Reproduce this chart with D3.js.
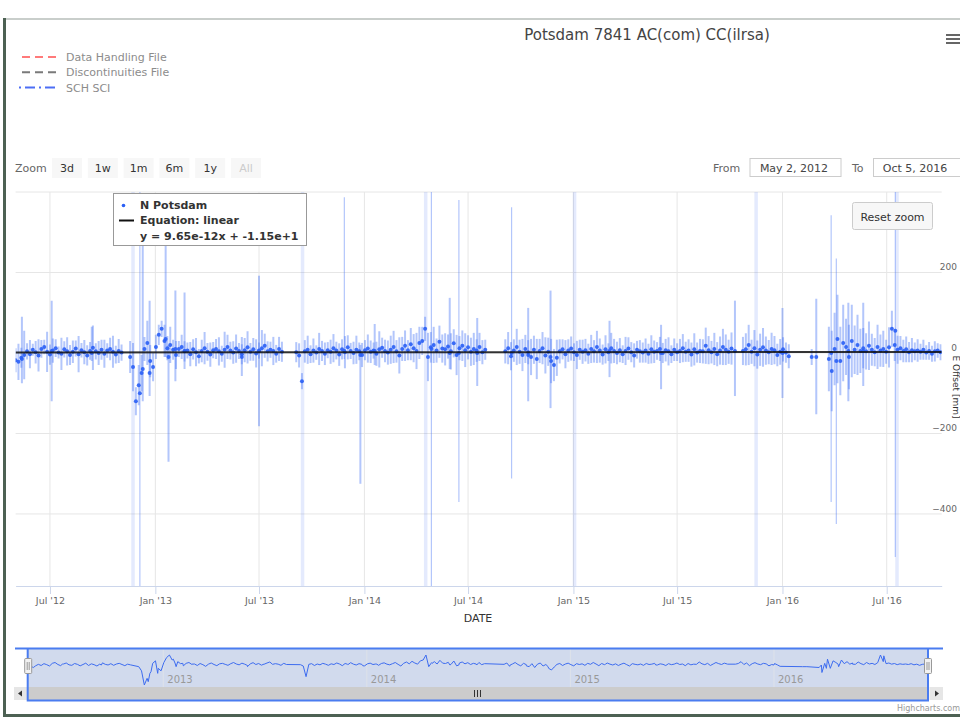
<!DOCTYPE html>
<html>
<head>
<meta charset="utf-8">
<script src="https://cdn.jsdelivr.net/npm/d3@7"></script>
<style>
  body { margin: 0; background: #fff; }
  svg { display: block; font-family: "DejaVu Sans", sans-serif; }
</style>
</head>
<body>
<div id="plot"></div>
<script>
// values

  const chartTitle = "Potsdam 7841 AC(com) CC(ilrsa)";
  const legendNames = ["Data Handling File", "Discontinuities File", "SCH SCI"];
  const zoomButtons = ["3d", "1w", "1m", "6m", "1y", "All"];
  const rangeFrom = "2012-05-02";
  const rangeTo = "2016-10-05";
  const fromLabel = "May 2, 2012";
  const toLabel = "Oct 5, 2016";
  const yTicks = [-400, -200, 0, 200, 400];
  const yMin = -579;
  const yMax = 400;

// N offsets [mm], one every 5 days from rangeFrom (null = no data)
  const obsStepDays = 5;
  const offsets = [
    -18, -22, -12, -5, 4, -3, 8, 2, -6, 10,
    15, 3, -4, 6, 12, 1, -2, 9, 4, -5,
    3, 11, -3, 7, 2, -6, 5, 13, 4, 0,
    8, -2, 6, 10, 3, -4, 5, 1,
    null, null,
    -10, -35, -120, -80, -50, 10, 25, -20, -35, 15,
    45, 60, 30, 12, 20, 8, -5, 10, 15, 4,
    6, -3, 9, 2, -8, 5, 12, 3, -4, 7,
    10, 4, -2, 8, 15, 6, 1, 11, 5, -3,
    7, 14, 3, 9, -1, 6, 12, 18, 4, 8,
    5, -2, 10, 3,
    null, null, null, null,
    2, -6, -70, 4, 8, -3, 6, 1, 10, 5, -2, 7,
    3, 12, 6, -4, 9, 2, 14, 5, 0, 8,
    4, -5, 7, 11, 3, 6, -2, 9, 13, 5,
    1, 8, 15, 4, -6, 10, 18, 7, 22, 12,
    5, 25, 30, 60, -10, 14, 20, 6, 28, 11,
    9, 16, 4, 24, -5, 12, 18, 7, 14, 3,
    10, 6, 15, 2, 8,
    null, null, null, null, null, null,
    4, 12, -8, 6, 15, 3, -5, 10, 2,
    -10, 8, -15, 5, 12, -6, 3, -20, -30, -12,
    4, 9, -3, 6, 11, 2, -5, 8, 3, 7,
    -2, 10, 4, 15, 6, -4, 9, 2, 12, 5,
    0, 7, -3, 5, 11, 2, -6, 8, 4, 1,
    6, -2, 9, 3, 5, 10, 0, 7, 4, -3,
    8, 2, 5, 12, 3, 6, -4, 9, 1, 5,
    4, 18, 7, 2, 10, -3, 6, 15, 8, 3, 11,
    null, null, null,
    5, 9, 20, 3, 12, -4, 8, 14, 6, 2, 10, 7, -5, 3, 9, 1, -8,
    null, null, null, null, null, null, null, -10, null, null, null, null, null,
    -15, -45, 10, 35, -20, 25, 15, -10, 30, 8, 20, 5,
    12, 4, 18, 8, 2, 15, 6, 10, 3, 14,
    60, 20, 8, 12, 5, 9, 2, 7, 4, 6,
    3, 8, 1, 5, -2, 4, 6, 2
  ];

// error bar half widths [mm] for the offsets above
  const sigmas = [
    30, 45, 25, 60, 20, 35, 15, 28, 40, 22,
    18, 50, 25, 30, 22, 15, 40, 20, 35, 25,
    28, 20, 45, 18, 30, 25, 22, 55, 20, 30,
    25, 35, 18, 28, 40, 22, 30, 20,
    null, null,
    40, 60, 35, 50, 45, 30, 55, 40, 35, 30,
    25, 20, 40, 30, 45, 25, 35, 20, 30, 25,
    20, 30, 25, 35, 18, 28, 40, 22, 30, 20,
    25, 35, 20, 45, 30, 22, 28, 35, 20, 25,
    30, 40, 22, 28, 35, 20, 45, 30, 25, 20,
    35, 22, 30, 25,
    null, null, null, null,
    25, 30, 20, 28, 35, 22, 30, 18, 40, 25, 28, 20,
    30, 35, 22, 28, 25, 40, 30, 20, 28, 35,
    22, 30, 25, 35, 28, 20, 30, 45, 25, 28,
    30, 35, 40, 28, 45, 30, 38, 25, 40, 35,
    45, 40, 35, 30, 60, 38, 45, 30, 40, 35,
    40, 30, 45, 35, 50, 30, 38, 42, 30, 35,
    40, 28, 35, 30, 25,
    null, null, null, null, null, null,
    30, 40, 35, 28, 45, 30, 40, 35, 30,
    45, 35, 50, 30, 40, 45, 35, 55, 40, 45,
    30, 25, 35, 28, 30, 22, 35, 25, 30, 28,
    25, 35, 28, 40, 30, 25, 35, 22, 38, 30,
    28, 30, 22, 35, 28, 25, 30, 22, 28, 25,
    30, 25, 35, 28, 22, 30, 25, 28, 35, 22,
    28, 22, 30, 35, 25, 28, 30, 40, 25, 30,
    30, 45, 35, 28, 40, 30, 35, 45, 38, 30, 40,
    null, null, null,
    35, 40, 50, 30, 45, 35, 40, 48, 35, 30, 40, 35, 28, 32, 30, 25, 30,
    null, null, null, null, null, null, null, 20, null, null, null, null, null,
    80, 100, 90, 110, 85, 95, 70, 80, 90, 60, 75, 55,
    50, 45, 60, 40, 35, 55, 40, 45, 30, 50,
    45, 40, 35, 30, 28, 32, 25, 30, 22, 28,
    20, 25, 18, 22, 20, 25, 18, 20
  ];

// single observations with very large error bars
  const spikeDates = ["2012-05-13", "2012-07-04", "2012-09-12", "2012-12-05", "2012-12-10",
    "2012-12-22", "2013-01-19", "2013-01-24", "2013-02-05", "2013-02-21", "2013-06-01",
    "2013-07-01", "2013-11-27", "2013-12-25", "2014-01-19", "2014-04-28", "2014-05-30",
    "2014-06-15", "2014-07-17", "2014-09-15", "2014-10-14", "2014-11-22", "2015-03-05",
    "2015-06-03", "2015-10-10", "2016-01-01", "2016-02-29", "2016-03-26", "2016-04-04",
    "2016-04-25", "2016-05-21", "2016-07-16"];
  const spikeValues = [-15, 5, 0, -100, -40, -50, 35, -10, 10, 5, -10, 5, 5, -5, 5, 10,
    0, 0, 0, 0, -5, -10, 5, 0, 5, 0, -10, 0, -20, 5, 5, 55];
  const spikeLow = [-75, -120, -20, -900, -120, -107, -10, -270, -70, -40, -57, -182, -15,
    -325, -30, -900, -40, -370, -82, -312, -120, -137, -60, -90, -107, -112, -152, -370,
    -425, -120, -82, -507];
  const spikeHigh = [90, 130, 65, 900, 280, 130, 272, 20, 155, 150, 40, 192, 387, 20, 72,
    900, 137, 380, 87, 362, 112, 155, 80, 70, 130, 112, 135, 342, 235, 125, 125, 900];

// SCH SCI plot lines
  const sciDates = ["2012-11-23", "2013-09-15", "2014-04-18", "2015-01-03", "2015-11-16", "2016-07-19"];

// linear fit from the box
  const fitSlope = 9.65e-12;
  const fitIntercept = -1.15e+1;

  const w = 960;
  const h = 721;
  const plot = {left: 15.6, right: 941.7, top: 192, bottom: 586};
  const nav = {left: 27.2, right: 929, top: 649, bottom: 687};

  const parse = d3.utcParse("%Y-%m-%d");
  const start = parse(rangeFrom);
  const end = parse(rangeTo);

  const obs = offsets.map((v, i) => ({
      date: d3.utcDay.offset(start, i * obsStepDays),
      value: v, lo: v - sigmas[i], hi: v + sigmas[i]}))
    .filter(d => d.value !== null);

  const spikes = spikeDates.map((s, i) => ({
      date: parse(s), value: spikeValues[i], lo: spikeLow[i], hi: spikeHigh[i]}));

  const points = obs.concat(spikes).sort((a, b) => a.date - b.date);

  const xScale = d3.scaleUtc()
      .domain([start, end])
      .range([plot.left, plot.right]);

  const yScale = d3.scaleLinear()
      .domain([yMin, yMax])
      .range([plot.bottom, plot.top]);

  const svg = d3.select("#plot")
    .append("svg")
      .attr("width", w)
      .attr("height", h);

  svg.append("rect")
      .attr("width", w)
      .attr("height", h)
      .attr("fill", "#fff");

// window frame

  svg.append("rect").attr("x", 3).attr("y", 18).attr("width", w - 3).attr("height", 2).attr("fill", "#c9cecb");
  svg.append("rect").attr("x", 3).attr("y", 18).attr("width", 3).attr("height", 699).attr("fill", "#4d6153");
  svg.append("rect").attr("x", 3).attr("y", 714).attr("width", w - 3).attr("height", 3).attr("fill", "#4d6153");

// title and menu

  svg.append("text")
      .attr("x", 647)
      .attr("y", 40)
      .attr("text-anchor", "middle")
      .attr("font-size", 15)
      .attr("fill", "#444")
      .text(chartTitle);

  [35, 39, 43].forEach(yy => {
    svg.append("line").attr("x1", 946).attr("x2", 960).attr("y1", yy).attr("y2", yy)
        .attr("stroke", "#666").attr("stroke-width", 2);
  });

// legend

  const legendStyles = [
    {color: "#ff7a7a", dash: "8,5", x1: 22},
    {color: "#7a7a7a", dash: "8,5", x1: 22},
    {color: "#4d6ef5", dash: "2,4,10,4", x1: 19}
  ];

  const legend = svg.append("g").attr("class", "legend");
  legendNames.forEach((name, i) => {
    const yy = 57 + i * 15.3;
    legend.append("line")
        .attr("x1", legendStyles[i].x1).attr("x2", 56)
        .attr("y1", yy).attr("y2", yy)
        .attr("stroke", legendStyles[i].color)
        .attr("stroke-width", 2)
        .attr("stroke-dasharray", legendStyles[i].dash);
    legend.append("text")
        .attr("x", 66).attr("y", yy + 4)
        .attr("font-size", 11)
        .attr("fill", "#8c8c8c")
        .text(name);
  });

// range selector

  svg.append("text")
      .attr("x", 15).attr("y", 172)
      .attr("font-size", 11).attr("fill", "#666")
      .text("Zoom");

  const buttons = svg.append("g").attr("class", "buttons")
    .selectAll("g")
      .data(zoomButtons)
    .enter().append("g")
      .attr("transform", (d, i) => `translate (${52 + i * 35.8}, 158)`);

  buttons.append("rect")
      .attr("width", 30).attr("height", 20)
      .attr("fill", "#f7f7f7");

  buttons.append("text")
      .attr("x", 15).attr("y", 14)
      .attr("text-anchor", "middle")
      .attr("font-size", 11)
      .attr("fill", d => d === "All" ? "#cccccc" : "#333")
      .text(d => d);

  svg.append("text").attr("x", 713).attr("y", 172).attr("font-size", 11).attr("fill", "#666").text("From");
  svg.append("rect").attr("x", 750).attr("y", 158.5).attr("width", 91).attr("height", 18)
      .attr("fill", "#fff").attr("stroke", "#cccccc");
  svg.append("text").attr("x", 794).attr("y", 172).attr("text-anchor", "middle")
      .attr("font-size", 11).attr("fill", "#444").text(fromLabel);
  svg.append("text").attr("x", 852).attr("y", 172).attr("font-size", 11).attr("fill", "#666").text("To");
  svg.append("rect").attr("x", 873.5).attr("y", 158.5).attr("width", 91).attr("height", 18)
      .attr("fill", "#fff").attr("stroke", "#cccccc");
  svg.append("text").attr("x", 915).attr("y", 172).attr("text-anchor", "middle")
      .attr("font-size", 11).attr("fill", "#444").text(toLabel);

// grid

  const xTicks = xScale.ticks(d3.utcMonth.every(6));

  svg.append("g")
      .attr("class", "ygrid")
    .selectAll("line")
      .data(yTicks)
    .enter().append("line")
      .attr("x1", plot.left).attr("x2", plot.right)
      .attr("y1", d => yScale(d)).attr("y2", d => yScale(d))
      .attr("stroke", "#e6e6e6");

  svg.append("g")
      .attr("class", "xgrid")
    .selectAll("line")
      .data(xTicks)
    .enter().append("line")
      .attr("x1", d => xScale(d)).attr("x2", d => xScale(d))
      .attr("y1", plot.top).attr("y2", plot.bottom)
      .attr("stroke", "#e6e6e6");

// marks, clipped to the plot area

  svg.append("clipPath")
      .attr("id", "clip")
    .append("rect")
      .attr("x", plot.left).attr("y", plot.top)
      .attr("width", plot.right - plot.left)
      .attr("height", plot.bottom - plot.top);

  const marks = svg.append("g").attr("clip-path", "url(#clip)");

  marks.append("g")
      .attr("class", "sci")
    .selectAll("line")
      .data(sciDates.map(parse))
    .enter().append("line")
      .attr("x1", d => xScale(d)).attr("x2", d => xScale(d))
      .attr("y1", plot.top).attr("y2", plot.bottom)
      .attr("stroke", "#3f6df2")
      .attr("stroke-opacity", 0.14)
      .attr("stroke-width", 3.5);

  marks.append("g")
      .attr("class", "errorbars")
    .selectAll("line")
      .data(points)
    .enter().append("line")
      .attr("x1", d => xScale(d.date)).attr("x2", d => xScale(d.date))
      .attr("y1", d => yScale(d.hi)).attr("y2", d => yScale(d.lo))
      .attr("stroke", "#4a78f5")
      .attr("stroke-opacity", 0.42)
      .attr("stroke-width", d => d.hi - d.lo > 400 ? 1.2 : 2);

  marks.append("g")
      .attr("class", "dots")
    .selectAll("circle")
      .data(points)
    .enter().append("circle")
      .attr("cx", d => xScale(d.date))
      .attr("cy", d => yScale(d.value))
      .attr("r", 2)
      .attr("fill", "#2a5ff5")
      .attr("fill-opacity", 0.9);

  const fit = d => fitSlope * d.getTime() + fitIntercept;

  marks.append("line")
      .attr("x1", xScale(start)).attr("x2", xScale(end))
      .attr("y1", yScale(fit(start))).attr("y2", yScale(fit(end)))
      .attr("stroke", "#111")
      .attr("stroke-opacity", 0.85)
      .attr("stroke-width", 2);

// axes

  const xAxis = d3.axisBottom(xScale)
      .tickValues(xTicks)
      .tickFormat(d3.utcFormat("%b '%y"))
      .tickSize(8)
      .tickSizeOuter(0)
      .tickPadding(3);

  const gx = svg.append("g")
      .attr("class", "xAxis")
      .attr("transform", `translate (0, ${plot.bottom})`)
      .call(xAxis);
  gx.select(".domain").attr("stroke", "#ccd6eb");
  gx.selectAll(".tick line").attr("stroke", "#ccd6eb");
  gx.selectAll("text").attr("font-size", 9.5).attr("fill", "#666").attr("font-family", "DejaVu Sans");

  svg.append("text")
      .attr("x", 478).attr("y", 622)
      .attr("text-anchor", "middle")
      .attr("font-size", 11).attr("fill", "#333")
      .text("DATE");

  const yAxis = d3.axisLeft(yScale)
      .tickValues(yTicks.filter(d => d < yMax))
      .tickSize(0)
      .tickPadding(0);

  const gy = svg.append("g")
      .attr("class", "yAxis")
      .attr("transform", `translate (957, 0)`)
      .call(yAxis);
  gy.select(".domain").remove();
  gy.selectAll("text").attr("y", -5.5).attr("font-size", 9).attr("fill", "#666").attr("font-family", "DejaVu Sans");

  svg.append("text")
      .attr("transform", `translate (953, ${(plot.top + plot.bottom) / 2 - 2}) rotate(90)`)
      .attr("text-anchor", "middle")
      .attr("font-size", 9).attr("fill", "#333")
      .text("E Offset [mm]");

// series box

  const box = svg.append("g").attr("transform", "translate (113, 193)");
  box.append("rect")
      .attr("x", 0.5).attr("y", 0.5).attr("width", 193).attr("height", 52)
      .attr("fill", "#fff").attr("stroke", "#999");
  box.append("circle").attr("cx", 10.5).attr("cy", 12.5).attr("r", 1.8).attr("fill", "#2a5ff5");
  box.append("line").attr("x1", 6).attr("x2", 21).attr("y1", 27.5).attr("y2", 27.5)
      .attr("stroke", "#111").attr("stroke-width", 2);
  const boxLines = ["N Potsdam", "Equation: linear", `y = ${fitSlope.toExponential(2)}x + ${fitIntercept.toExponential(2)}`];
  boxLines.forEach((t, i) => {
    box.append("text")
        .attr("x", 27).attr("y", 16 + i * 15.3)
        .attr("font-size", 11).attr("font-weight", "bold").attr("fill", "#333")
        .text(t);
  });

// reset zoom button

  svg.append("rect")
      .attr("x", 852.5).attr("y", 202.5).attr("width", 80).attr("height", 27).attr("rx", 2)
      .attr("fill", "#f7f7f7").attr("stroke", "#cccccc");
  svg.append("text")
      .attr("x", 892.5).attr("y", 220.5)
      .attr("text-anchor", "middle")
      .attr("font-size", 11).attr("fill", "#333")
      .text("Reset zoom");

// navigator

  const navX = d3.scaleUtc()
      .domain([start, end])
      .range([nav.left, nav.right]);

  const navY = d3.scaleLinear()
      .domain(d3.extent(points, d => d.value))
      .range([685, 655]);

  svg.append("rect")
      .attr("x", nav.left).attr("y", nav.top)
      .attr("width", nav.right - nav.left).attr("height", nav.bottom - nav.top)
      .attr("fill", "rgba(102,133,194,0.3)");

  const navTicks = navX.ticks(d3.utcYear.every(1));

  svg.append("g")
    .selectAll("line")
      .data(navTicks)
    .enter().append("line")
      .attr("x1", d => navX(d)).attr("x2", d => navX(d))
      .attr("y1", nav.top).attr("y2", nav.bottom)
      .attr("stroke", "#e6e6e6").attr("stroke-opacity", 0.6);

  svg.append("g")
    .selectAll("text")
      .data(navTicks)
    .enter().append("text")
      .attr("x", d => navX(d) + 4).attr("y", 683)
      .attr("font-size", 10).attr("fill", "#999")
      .text(d3.utcFormat("%Y"));

  const navLine = d3.line()
      .x(d => navX(d.date))
      .y(d => navY(d.value));

  svg.append("path")
      .datum(points)
      .attr("d", navLine)
      .attr("fill", "none")
      .attr("stroke", "#3d6cf0")
      .attr("stroke-width", 1);

// scrollbar

  svg.append("rect").attr("x", 14).attr("y", 687).attr("width", 929).attr("height", 13).attr("fill", "#f2f2f2");
  svg.append("rect").attr("x", nav.left).attr("y", 687).attr("width", 900.5).attr("height", 13).attr("fill", "#cccccc");
  svg.append("rect").attr("x", 14).attr("y", 687).attr("width", 13).attr("height", 13).attr("fill", "#e6e6e6");
  svg.append("rect").attr("x", 930).attr("y", 687).attr("width", 13).attr("height", 13).attr("fill", "#e6e6e6");
  svg.append("path").attr("d", "M22,690.5 L18,693.5 L22,696.5 Z").attr("fill", "#333");
  svg.append("path").attr("d", "M935,690.5 L939,693.5 L935,696.5 Z").attr("fill", "#333");
  [-3, 0, 3].forEach(dx => {
    svg.append("line").attr("x1", 477.5 + dx).attr("x2", 477.5 + dx).attr("y1", 690).attr("y2", 697)
        .attr("stroke", "#333").attr("stroke-width", 1);
  });

// outline and handles

  svg.append("path")
      .attr("d", `M15,648.5 L943,648.5 M${nav.left + 0.5},648.5 L${nav.left + 0.5},700.5 L${nav.right - 1},700.5 L${nav.right - 1},648.5`)
      .attr("fill", "none")
      .attr("stroke", "#4a7cf0")
      .attr("stroke-width", 2);

  [nav.left + 1, nav.right - 1].forEach(hx => {
    svg.append("rect")
        .attr("x", hx - 3.5).attr("y", 658.5).attr("width", 7).attr("height", 15).attr("rx", 1)
        .attr("fill", "#f2f2f2").attr("stroke", "#999");
    [-1, 1].forEach(dx => {
      svg.append("line").attr("x1", hx + dx).attr("x2", hx + dx).attr("y1", 662).attr("y2", 670)
          .attr("stroke", "#999");
    });
  });

  svg.append("text")
      .attr("x", 897).attr("y", 710.5)
      .attr("font-size", 8).attr("fill", "#999")
      .text("Highcharts.com");
</script>
</body>
</html>
